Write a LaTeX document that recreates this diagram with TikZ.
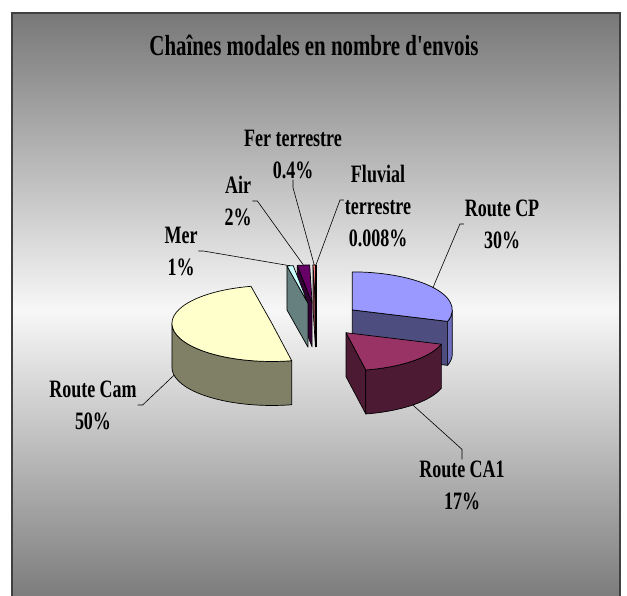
\documentclass[tikz,border=0pt]{standalone}
\usepackage{fontspec}
\setmainfont{Liberation Serif}
\usepackage{tikz}
\usetikzlibrary{calc,positioning}

\definecolor{cptop}{HTML}{9999FF}
\definecolor{cpside}{HTML}{4D4D80}
\definecolor{cprim}{HTML}{6F6FBF}
\definecolor{catop}{HTML}{993366}
\definecolor{caside}{HTML}{4D1A33}
\definecolor{camtop}{HTML}{FFFFCC}
\definecolor{camside}{HTML}{808066}
\definecolor{mertop}{HTML}{CCFFFF}
\definecolor{merside}{HTML}{668080}
\definecolor{airtop}{HTML}{660066}
\definecolor{airside}{HTML}{330033}
\definecolor{fertop}{HTML}{FF8080}
\definecolor{ferside}{HTML}{804040}

\tikzset{
  rad/.style={x radius=100,y radius=38},
  rim/.style={draw=black,line width=0.7pt,line join=round},
  lbl/.style={font=\fontsize{25}{32}\selectfont\bfseries,align=center,xscale=0.72,inner sep=1pt},
  lead/.style={draw=black,line width=0.6pt}
}

\begin{document}
\begin{tikzpicture}[x=1pt,y=1pt]
	\useasboundingbox (0,0) rectangle (627,595);
	% chart area
	\shade[top color=black!53,bottom color=black!53,middle color=black!3] (12,-12) rectangle (620,582);
	\draw[line width=1.4pt,draw=black!75] (12,-12) rectangle (620,582);
	\node (title) at (314,550) [font=\fontsize{29}{34}\selectfont\bfseries,xscale=0.72] {Chaînes modales en nombre d\textquotesingle envois};

	% slice centres, pulled out of the pie
	\coordinate (c0) at (316,275);
	\coordinate (cp) at ($(c0)+(36.2:45 and 17.1)$);
	\coordinate (ca) at ($(c0)+(-48.1:45 and 17.1)$);
	\coordinate (cam) at ($(c0)+(-168.25:45 and 17.1)$);
	\coordinate (mer) at ($(c0)+(100.3:45 and 17.1)$);
	\coordinate (air) at ($(c0)+(94.95:45 and 17.1)$);
	\coordinate (fer) at ($(c0)+(90.7:45 and 17.1)$);
	\coordinate (fluv) at ($(c0)+(90:45 and 17.1)$);

	% back slices
	\draw[rim] (fluv) -- ++(90:100 and 38);
	\draw[rim] (fluv) -- ++(0,-44);
	\draw[rim,fill=ferside] (fer) -- ++(91.4:100 and 38) -- ++(0,-44) -- ($(fer)+(0,-44)$) -- cycle;
	\draw[rim,fill=fertop] (fer) -- ++(90.03:100 and 38) arc[rad,start angle=90.03,end angle=91.4] -- cycle;
	\draw[rim,fill=airside] (air) -- ++(98.5:100 and 38) -- ++(0,-44) -- ($(air)+(0,-44)$) -- cycle;
	\draw[rim,fill=airtop] (air) -- ++(91.4:100 and 38) arc[rad,start angle=91.4,end angle=98.5] -- cycle;
	\draw[rim,fill=merside] (mer) -- ++(102.1:100 and 38) -- ++(0,-44) -- ($(mer)+(0,-44)$) -- cycle;
	\draw[rim,fill=mertop] (mer) -- ++(98.5:100 and 38) arc[rad,start angle=98.5,end angle=102.1] -- cycle;

	% Route Cam
	\draw[rim,fill=camside] ($(cam)+(180:100 and 38)$) arc[rad,start angle=180,end angle=281.4] -- ++(0,-44) arc[rad,start angle=281.4,end angle=180] -- cycle;
	\draw[rim,fill=camtop] (cam) -- ++(102.1:100 and 38) arc[rad,start angle=102.1,end angle=281.4] -- cycle;

	% Route CP
	\draw[rim,fill=cpside] (cp) -- ++(-17.6:100 and 38) -- ++(0,-44) -- ($(cp)+(0,-44)$) -- cycle;
	\draw[rim,fill=cprim] ($(cp)+(-17.6:100 and 38)$) arc[rad,start angle=-17.6,end angle=0] -- ++(0,-44) arc[rad,start angle=0,end angle=-17.6] -- cycle;
	\draw[rim,fill=cptop] (cp) -- ++(-17.6:100 and 38) arc[rad,start angle=-17.6,end angle=90] -- cycle;

	% Route CA1
	\draw[rim,fill=caside] (ca) -- ++(-78.6:100 and 38) -- ++(0,-44) -- ($(ca)+(0,-44)$) -- cycle;
	\draw[rim,fill=caside] ($(ca)+(-78.6:100 and 38)$) arc[rad,start angle=-78.6,end angle=-17.6] -- ++(0,-44) arc[rad,start angle=-17.6,end angle=-78.6] -- cycle;
	\draw[rim,fill=catop] (ca) -- ++(-78.6:100 and 38) arc[rad,start angle=-78.6,end angle=-17.6] -- cycle;

	% label ends on the slices
	\coordinate (cp tip) at ($(cp)+(36.2:100 and 38)$);
	\coordinate (ca tip) at ($(ca)+(-48.1:100 and 38)+(0,-44)$);
	\coordinate (cam tip) at ($(cam)+(-168.25:100 and 38)+(0,-44)$);
	\coordinate (mer tip) at ($(mer)+(100.3:100 and 38)$);
	\coordinate (air tip) at ($(air)+(94.95:100 and 38)$);
	\coordinate (fer tip) at ($(fer)+(90.7:100 and 38)$);
	\coordinate (fluv tip) at ($(fluv)+(90:100 and 38)$);

	% labels
	\node[lbl] (merlbl) at (181,344) {Mer\\1\%};
	\node[lbl] (airlbl) at (238,394) {Air\\2\%};
	\node[lbl] (ferlbl) at (293,441) {Fer terrestre\\0.4\%};
	\node[lbl] (fluvlbl) at (378,389) {Fluvial\\terrestre\\0.008\%};
	\node[lbl] (cplbl) at (502,371) {Route CP\\30\%};
	\node[lbl] (camlbl) at (93,190) {Route Cam\\50\%};
	\node[lbl] (ca1lbl) at (462,110) {Route CA1\\17\%};

	\draw[lead] (merlbl.east) -- ++(5,0) -- (mer tip);
	\draw[lead] (airlbl.east) -- ++(5,0) -- (air tip);
	\draw[lead] (ferlbl.south) -- ++(0,-8) -- (fer tip);
	\draw[lead] ([yshift=6pt]fluvlbl.west) -- ++(-4,0) -- (fluv tip);
	\draw[lead] (cplbl.west) -- ++(-4,0) -- (cp tip);
	\draw[lead] (camlbl.east) -- ++(5,0) -- (cam tip);
	\draw[lead] (ca1lbl.north) -- ++(0,10) -- (ca tip);
\end{tikzpicture}
\end{document}
